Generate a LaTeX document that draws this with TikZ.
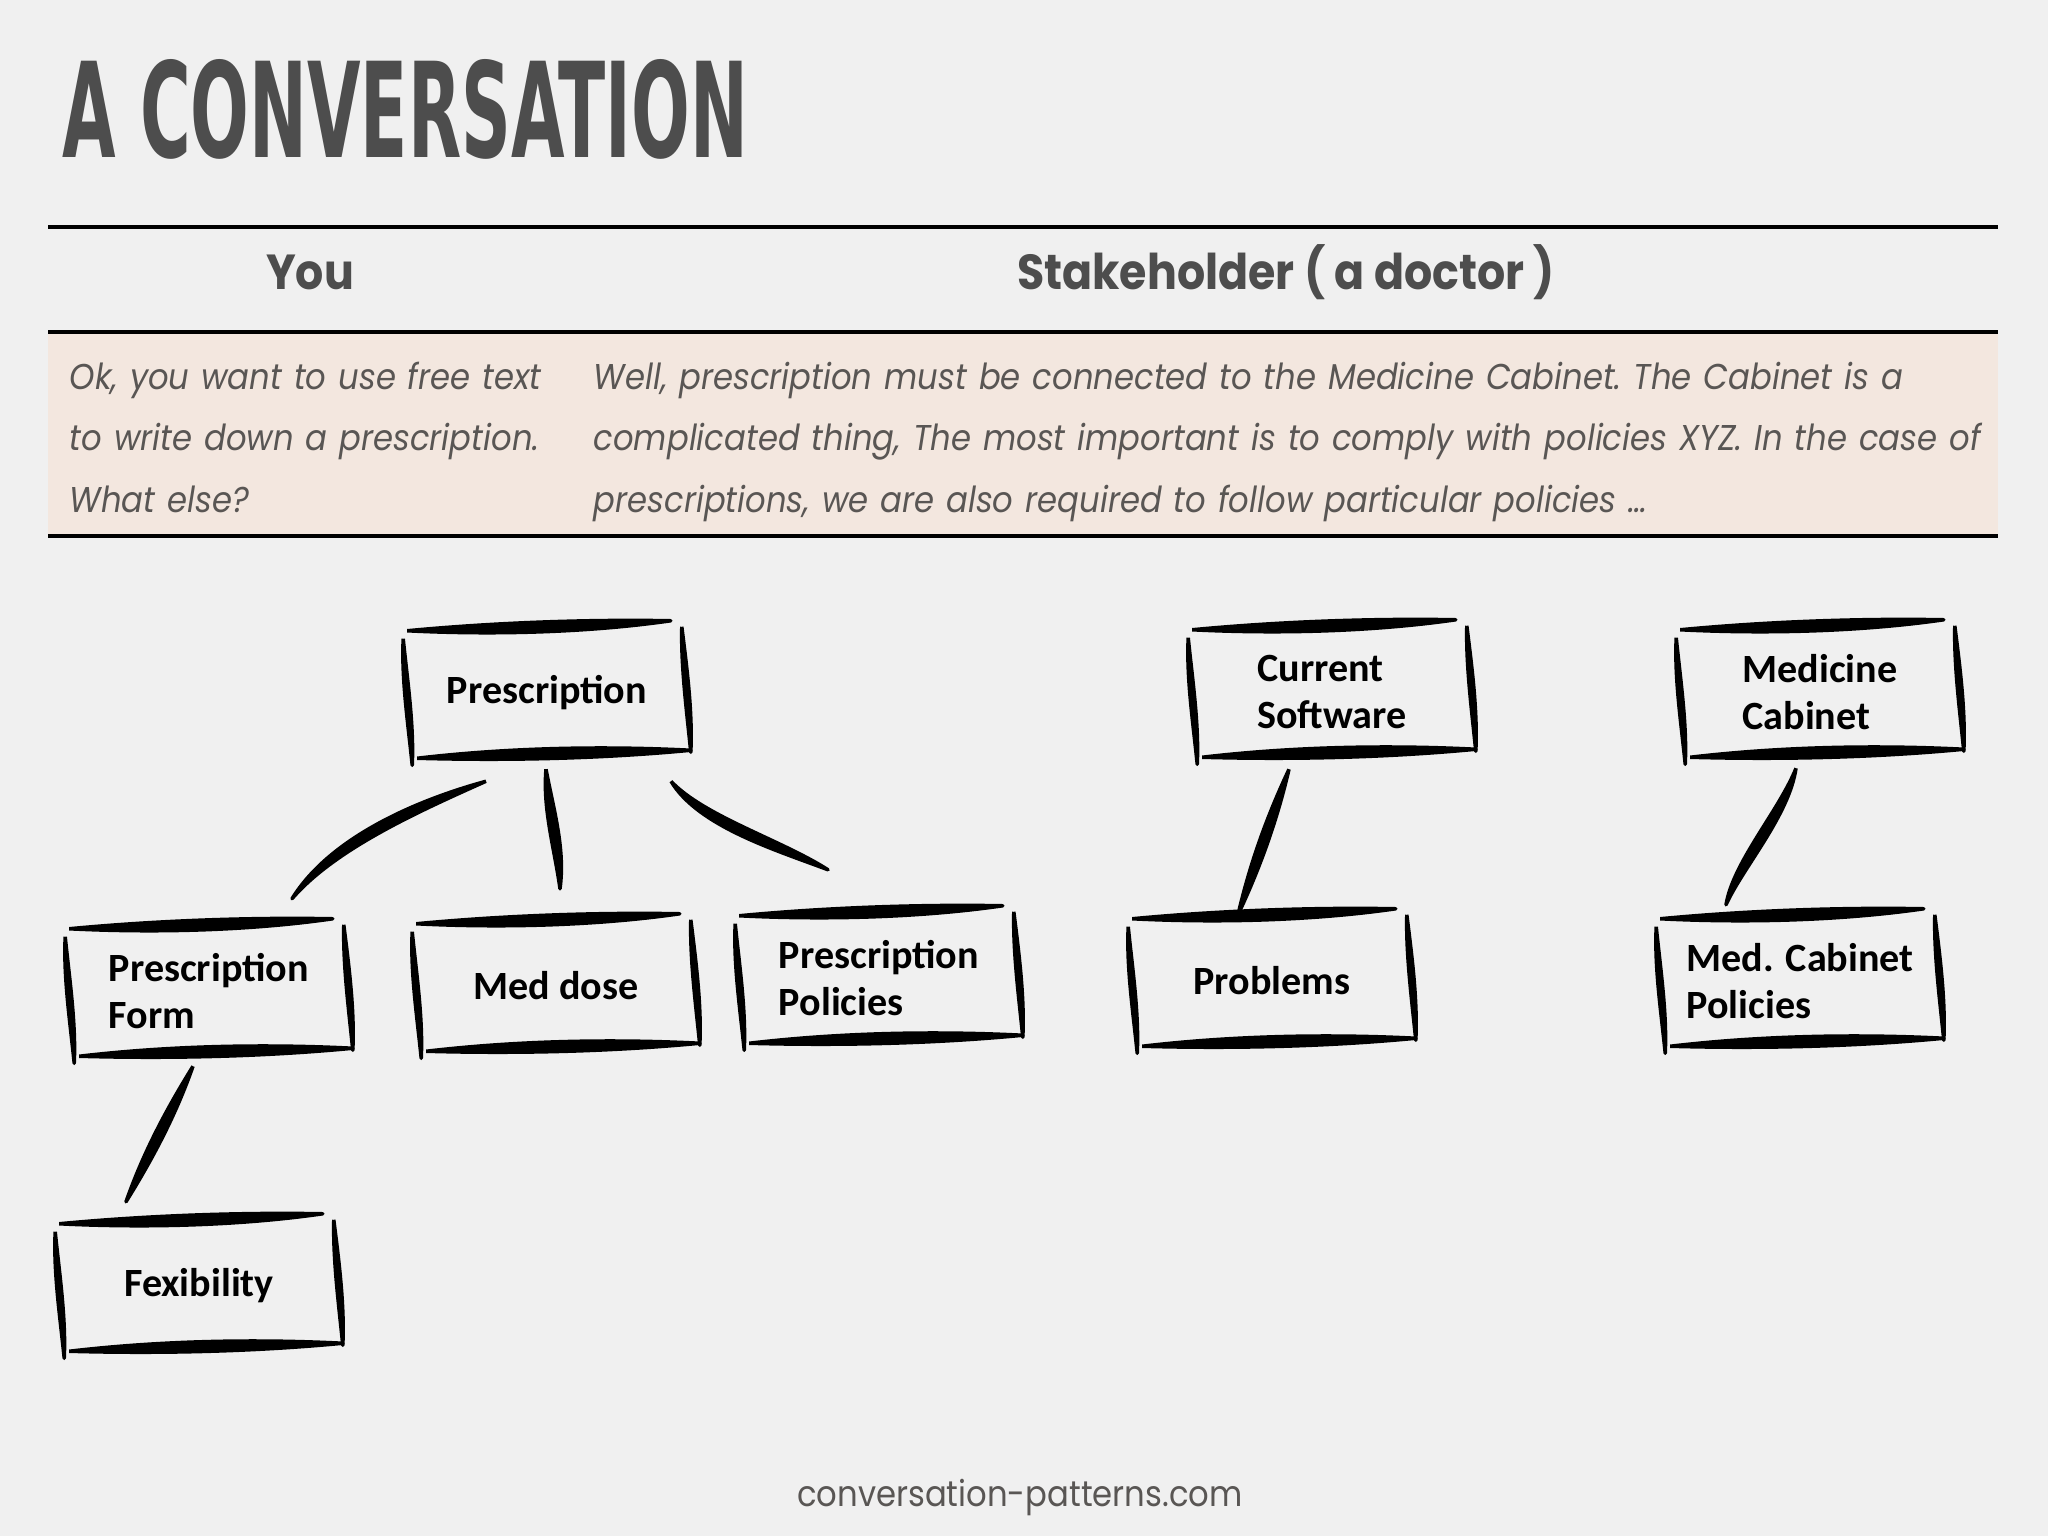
\documentclass[tikz,border=0pt]{standalone}
\usepackage{fontspec}
\usepackage{graphicx}
\setmainfont{Carlito}
\newfontfamily\gothic{Poppins}[FakeStretch=0.9]
\newfontfamily\headfont{DejaVu Sans Condensed}
\definecolor{paper}{HTML}{F0F0F0}
\definecolor{peach}{HTML}{F3E7DF}
\definecolor{ink}{HTML}{4D4D4D}
\definecolor{talk}{HTML}{595654}

\tikzset{
    box/.style={minimum width=2.86cm, minimum height=1.43cm, inner sep=0pt, align=left,
        font=\bfseries\fontsize{11.4}{13.6}\selectfont},
    rule/.style={line width=0.9pt}
}

% tapered brush stroke: start, c1x, c1y, c2x, c2y, end, dx, dy
\newcommand\taper[8]{%
    \filldraw[line width=1pt, line join=round] (#1) .. controls +({#2-(#7)},{#3-(#8)}) and +({#4-(#7)},{#5-(#8)}) .. (#6)
        .. controls +({#4+(#7)},{#5+(#8)}) and +({#2+(#7)},{#3+(#8)}) .. (#1);
}
% four loose strokes round a box node
\newcommand\sketchbox[1]{%
    \taper{[shift={(4,10)}]#1.north west}{90}{-2}{-80}{5}{[shift={(-20,0)}]#1.north east}{0}{6.5}
    \taper{[shift={(0,18)}]#1.north west}{1}{40}{-1}{-40}{[shift={(9,0)}]#1.south west}{3}{0}
    \taper{[shift={(-9,6)}]#1.north east}{2}{40}{-1}{-40}{[shift={(0,-13)}]#1.south east}{3}{0}
    \taper{[shift={(14,-7)}]#1.south west}{90}{-4}{-90}{2}{[shift={(0,-15)}]#1.south east}{0}{6.5}
}

\begin{document}
\begin{tikzpicture}[x=0.01cm, y=-0.01cm]
    \useasboundingbox[fill=paper] (0,0) rectangle (2048,1536);

    % title and table
    \node[anchor=north west, inner sep=0pt, text=ink] (title) at (62,59)
        {\resizebox{6.85cm}{0.98cm}{\headfont\bfseries A CONVERSATION}};
    \fill[peach] (48,332) rectangle (1998,536);
    \draw[rule] (48,227) -- (1998,227);
    \draw[rule] (48,332) -- (1998,332);
    \draw[rule] (48,536) -- (1998,536);
    \node[anchor=base, inner sep=0pt, text=ink, font=\gothic\bfseries\fontsize{14}{16}\selectfont] (you) at (310,289) {You};
    \node[anchor=base, inner sep=0pt, text=ink, font=\gothic\bfseries\fontsize{14}{16}\selectfont] (stake) at (1286,289) {Stakeholder ( a doctor )};
    \node[anchor=base west, inner sep=0pt, text=talk, text width=6cm, align=left,
        font=\gothic\itshape\frenchspacing\fontsize{10.2}{17.5}\selectfont] (ask) at (69,389)
        {Ok, you want to use free text\\to write down a prescription.\\What else?};
    \node[anchor=base west, inner sep=0pt, text=talk, text width=15cm, align=left,
        font=\gothic\itshape\frenchspacing\fontsize{10.2}{17.5}\selectfont] (answer) at (593,389)
        {Well, prescription must be connected to the Medicine Cabinet. The Cabinet is a\\complicated thing, The most important is to comply with policies XYZ. In the case of\\prescriptions, we are also required to follow particular policies \dots};

    % boxes
    \node[box] (presc) at (547,693) {Prescription};
    \node[box] (form) at (209,991) {Prescription\\Form};
    \node[box] (dose) at (556,986) {Med dose};
    \node[box] (pol) at (879,978) {Prescription\\Policies};
    \node[box] (flex) at (199,1286) {Fexibility};
    \node[box] (soft) at (1332,692) {Current\\Software};
    \node[box] (prob) at (1272,981) {Problems};
    \node[box] (cab) at (1820,692) {Medicine\\Cabinet};
    \node[box] (mcpol) at (1800,981) {Med. Cabinet\\Policies};
    \foreach \b in {presc,form,dose,pol,flex,soft,prob,cab,mcpol}
        \sketchbox{\b};

    % links
    \taper{[shift={(-61,16)}]presc.south}{-70}{25}{40}{-55}{[shift={(83,-20)}]form.north}{3}{5}
    \taper{[shift={(-1,4)}]presc.south}{2}{40}{0}{-40}{[shift={(4,-25)}]dose.north}{5.5}{0}
    \taper{[shift={(124,16)}]presc.south}{30}{40}{-50}{-25}{[shift={(-51,-36)}]pol.north}{3}{-5}
    \taper{[shift={(-16,3)}]form.south}{-22}{46}{22}{-46}{[shift={(-73,-12)}]flex.north}{5}{2.5}
    \taper{[shift={(-43,5)}]soft.south}{-17}{49}{17}{-49}{[shift={(-34,6)}]prob.north}{5.2}{1.8}
    \taper{[shift={(-24,4)}]cab.south}{-12}{45}{12}{-40}{[shift={(-74,-4)}]mcpol.north}{5}{2.5}

    \node[anchor=base, inner sep=0pt, text=talk, font=\gothic\fontsize{10.2}{12}\selectfont] (site) at (1020,1506) {conversation-patterns.com};
\end{tikzpicture}
\end{document}
